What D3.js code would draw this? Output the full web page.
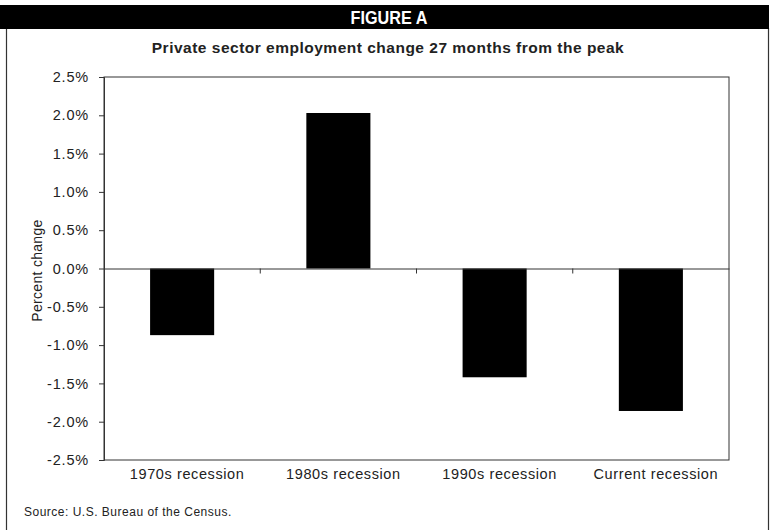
<!DOCTYPE html>
<html>
<head>
<meta charset="utf-8">
<script src="https://cdn.jsdelivr.net/npm/d3@7"></script>
<style>
 body { margin: 0; background: #fff; }
 text { font-family: "Liberation Sans", Arial, sans-serif; }
</style>
</head>
<body>
<div id="chart"></div>
<script>
//The categories and their values (percent change).
var categories = ["1970s recession", "1980s recession", "1990s recession", "Current recession"];
var values = [-0.87, 2.03, -1.42, -1.86];

//Y axis ticks.
var yTicks = [2.5, 2.0, 1.5, 1.0, 0.5, 0.0, -0.5, -1.0, -1.5, -2.0, -2.5];

var width = 771, height = 530;
var plotLeft = 104, plotRight = 729, plotTop = 77, plotBottom = 460;

var svg = d3.select("#chart").append("svg").attr("width", width).attr("height", height);

//Outer frame and header bar.
svg.append("line").attr("x1", 6.5).attr("x2", 6.5).attr("y1", 28).attr("y2", height)
 .attr("stroke", "#333").attr("stroke-width", 1.2);
svg.append("line").attr("x1", 768.5).attr("x2", 768.5).attr("y1", 28).attr("y2", height)
 .attr("stroke", "#333").attr("stroke-width", 1.2);
svg.append("rect").attr("x", 0).attr("y", 5).attr("width", 769).attr("height", 24).attr("fill", "#000");
svg.append("text").attr("x", 389).attr("y", 24).attr("text-anchor", "middle")
 .attr("fill", "#fff").attr("font-size", 18).attr("font-weight", "bold")
 .attr("transform", "translate(389,0) scale(0.9,1) translate(-389,0)")
 .text("FIGURE A");

//Title.
svg.append("text").attr("x", 388).attr("y", 53).attr("text-anchor", "middle")
 .attr("font-size", 15.5).attr("font-weight", "bold").attr("fill", "#222")
 .attr("letter-spacing", 0.5)
 .text("Private sector employment change 27 months from the peak");

//Scales.
var x = d3.scaleBand().domain(categories).range([plotLeft, plotRight]).paddingInner(0.59).paddingOuter(0.295);
var xSlots = d3.scaleBand().domain(categories).range([plotLeft, plotRight]);
var y = d3.scaleLinear().domain([-2.5, 2.5]).range([plotBottom, plotTop]);

//Plot frame.
svg.append("rect").attr("x", plotLeft).attr("y", plotTop)
 .attr("width", plotRight - plotLeft).attr("height", plotBottom - plotTop)
 .attr("fill", "none").attr("stroke", "#333").attr("stroke-width", 1);

//Bars.
svg.selectAll("rect.bar").data(values).enter().append("rect").attr("class", "bar")
 .attr("x", function(d, i) { return x(categories[i]); })
 .attr("width", x.bandwidth())
 .attr("y", function(d) { return y(Math.max(0, d)); })
 .attr("height", function(d) { return Math.abs(y(d) - y(0)); })
 .attr("fill", "#000");

//Y axis.
var yAxis = svg.append("g").attr("transform", "translate(" + plotLeft + ",0)")
 .call(d3.axisLeft(y).tickValues(yTicks).tickSize(5).tickPadding(10)
  .tickFormat(function(d) { return d.toFixed(1) + "%"; }));
yAxis.select(".domain").attr("stroke", "#333");
yAxis.selectAll(".tick line").attr("stroke", "#333");
yAxis.selectAll("text").attr("font-size", 14.5).attr("fill", "#222").attr("letter-spacing", 0.8)
 .style("font-family", "'Liberation Sans', Arial, sans-serif");

//Zero line with category separators.
var xAxis = svg.append("g").attr("transform", "translate(0," + y(0) + ")")
 .call(d3.axisBottom(xSlots).tickSize(0).tickFormat(""));
xAxis.select(".domain").attr("stroke", "#333");
svg.selectAll("line.sep").data(categories.slice(1)).enter().append("line").attr("class", "sep")
 .attr("x1", function(d) { return xSlots(d); }).attr("x2", function(d) { return xSlots(d); })
 .attr("y1", y(0)).attr("y2", y(0) + 5).attr("stroke", "#333");

//Category labels below the plot.
svg.selectAll("text.cat").data(categories).enter().append("text").attr("class", "cat")
 .attr("x", function(d) { return xSlots(d) + xSlots.bandwidth() / 2 + 5; })
 .attr("y", plotBottom + 19).attr("text-anchor", "middle")
 .attr("font-size", 14.5).attr("fill", "#222").attr("letter-spacing", 0.6)
 .text(function(d) { return d; });

//Y axis title.
svg.append("text").attr("transform", "translate(42," + (y(0) + 2) + ") rotate(-90)")
 .attr("text-anchor", "middle").attr("font-size", 14).attr("fill", "#222")
 .attr("letter-spacing", 0.3)
 .text("Percent change");

//Source.
svg.append("text").attr("x", 24).attr("y", 516).attr("font-size", 12).attr("fill", "#222")
 .attr("letter-spacing", 0.5)
 .text("Source: U.S. Bureau of the Census.");
</script>
</body>
</html>
